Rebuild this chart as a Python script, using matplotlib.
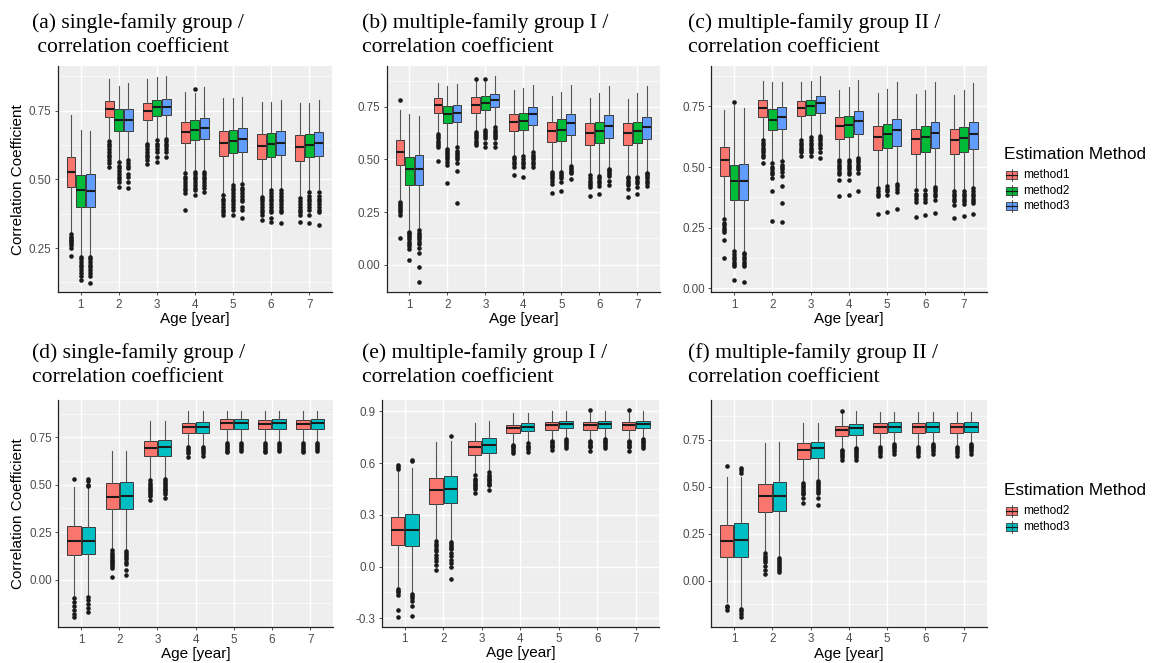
import matplotlib
matplotlib.use("Agg")
import matplotlib.pyplot as plt
from matplotlib.patches import Rectangle
from matplotlib.lines import Line2D
from matplotlib.ticker import AutoMinorLocator, FixedLocator

W, H = 1154, 663

AGES = [1, 2, 3, 4, 5, 6, 7]
METHODS_TOP = ["method1", "method2", "method3"]
COLORS_TOP = ["#F8766D", "#00BA38", "#619CFF"]
METHODS_BOT = ["method2", "method3"]
COLORS_BOT = ["#F8766D", "#00BFC4"]

# stats per age: (whisker low, Q1, median, Q3, whisker high)
# ---------------- (a) single-family group ----------------
A1_STATS = [(0.31, 0.471, 0.528, 0.583, 0.734), (0.65, 0.726, 0.756, 0.785, 0.865), (0.635, 0.716, 0.750, 0.777, 0.864),
            (0.53, 0.631, 0.674, 0.709, 0.819), (0.45, 0.585, 0.633, 0.675, 0.795), (0.445, 0.573, 0.621, 0.665, 0.783),
            (0.44, 0.568, 0.619, 0.661, 0.779)]
A1_OUT = [[0.30, 0.29, 0.285, 0.28, 0.275, 0.27, 0.26, 0.25, 0.22],
          [0.64, 0.63, 0.62, 0.61, 0.60, 0.59, 0.58, 0.57, 0.56, 0.546],
          [0.629, 0.62, 0.61, 0.60, 0.59, 0.58, 0.57, 0.556],
          [0.522, 0.51, 0.50, 0.49, 0.48, 0.47, 0.46, 0.449, 0.388],
          [0.443, 0.43, 0.42, 0.41, 0.40, 0.39, 0.38, 0.37],
          [0.437, 0.43, 0.42, 0.41, 0.40, 0.39, 0.38, 0.37, 0.352],
          [0.434, 0.42, 0.41, 0.40, 0.39, 0.38, 0.37, 0.346]]
A2_STATS = [(0.225, 0.400, 0.461, 0.515, 0.680), (0.57, 0.677, 0.716, 0.755, 0.841), (0.65, 0.731, 0.765, 0.791, 0.874),
            (0.535, 0.643, 0.680, 0.716, 0.816), (0.485, 0.597, 0.641, 0.680, 0.795), (0.47, 0.583, 0.629, 0.670, 0.783),
            (0.46, 0.580, 0.625, 0.667, 0.779)]
A2_OUT = [[0.218, 0.21, 0.20, 0.19, 0.18, 0.17, 0.16, 0.15, 0.133],
          [0.564, 0.55, 0.54, 0.53, 0.52, 0.51, 0.50, 0.49, 0.473],
          [0.643, 0.63, 0.62, 0.61, 0.60, 0.58, 0.564],
          [0.831, 0.528, 0.52, 0.51, 0.50, 0.49, 0.48, 0.47, 0.46, 0.443],
          [0.479, 0.47, 0.46, 0.45, 0.44, 0.43, 0.42, 0.41, 0.40, 0.39, 0.37],
          [0.461, 0.45, 0.44, 0.43, 0.42, 0.41, 0.40, 0.39, 0.38, 0.36, 0.346],
          [0.455, 0.44, 0.43, 0.42, 0.41, 0.40, 0.39, 0.37, 0.342]]
A3_STATS = [(0.225, 0.398, 0.459, 0.519, 0.677), (0.575, 0.677, 0.718, 0.755, 0.850), (0.655, 0.734, 0.765, 0.792, 0.876),
            (0.535, 0.647, 0.686, 0.724, 0.835), (0.49, 0.601, 0.646, 0.686, 0.801), (0.47, 0.589, 0.633, 0.675, 0.791),
            (0.465, 0.586, 0.631, 0.672, 0.789)]
A3_OUT = [[0.216, 0.21, 0.20, 0.19, 0.18, 0.17, 0.16, 0.15, 0.124],
          [0.57, 0.56, 0.55, 0.54, 0.52, 0.51, 0.49, 0.47],
          [0.648, 0.64, 0.63, 0.62, 0.61, 0.60, 0.58],
          [0.528, 0.52, 0.51, 0.50, 0.49, 0.48, 0.47, 0.455],
          [0.483, 0.47, 0.46, 0.45, 0.44, 0.43, 0.42, 0.40, 0.39, 0.358],
          [0.461, 0.45, 0.44, 0.43, 0.42, 0.41, 0.40, 0.39, 0.38, 0.34],
          [0.455, 0.44, 0.43, 0.42, 0.41, 0.40, 0.39, 0.38, 0.334]]

# ---------------- (b) multiple-family group I ----------------
B1_STATS = [(0.31, 0.476, 0.536, 0.592, 0.734), (0.63, 0.723, 0.761, 0.790, 0.864), (0.64, 0.723, 0.761, 0.795, 0.877),
            (0.52, 0.634, 0.679, 0.718, 0.832), (0.45, 0.582, 0.636, 0.680, 0.800), (0.435, 0.570, 0.627, 0.671, 0.790),
            (0.43, 0.570, 0.627, 0.671, 0.785)]
B1_OUT = [[0.782, 0.299, 0.29, 0.28, 0.27, 0.26, 0.25, 0.236, 0.125],
          [0.62, 0.61, 0.60, 0.59, 0.58, 0.57, 0.56, 0.494],
          [0.884, 0.631, 0.62, 0.61, 0.60, 0.59, 0.58, 0.568],
          [0.513, 0.50, 0.49, 0.48, 0.465, 0.426],
          [0.441, 0.43, 0.42, 0.41, 0.40, 0.383, 0.342],
          [0.426, 0.41, 0.40, 0.39, 0.38, 0.37, 0.326],
          [0.418, 0.41, 0.40, 0.39, 0.38, 0.362, 0.323]]
B2_STATS = [(0.17, 0.381, 0.454, 0.513, 0.714), (0.56, 0.674, 0.715, 0.753, 0.848), (0.65, 0.734, 0.769, 0.800, 0.870),
            (0.525, 0.642, 0.684, 0.723, 0.839), (0.45, 0.589, 0.642, 0.690, 0.821), (0.43, 0.576, 0.636, 0.680, 0.818),
            (0.43, 0.576, 0.633, 0.679, 0.818)]
B2_OUT = [[0.157, 0.15, 0.14, 0.13, 0.12, 0.11, 0.10, 0.09, 0.077, 0.022],
          [0.552, 0.54, 0.53, 0.52, 0.51, 0.50, 0.49, 0.473, 0.389],
          [0.884, 0.642, 0.63, 0.62, 0.61, 0.60, 0.58, 0.56],
          [0.516, 0.50, 0.49, 0.48, 0.465, 0.415],
          [0.441, 0.43, 0.42, 0.41, 0.394, 0.35],
          [0.421, 0.41, 0.40, 0.39, 0.373, 0.335],
          [0.418, 0.41, 0.40, 0.39, 0.37, 0.334]]
B3_STATS = [(0.175, 0.378, 0.454, 0.522, 0.706), (0.565, 0.676, 0.722, 0.758, 0.858), (0.665, 0.747, 0.782, 0.810, 0.896),
            (0.545, 0.665, 0.714, 0.750, 0.853), (0.475, 0.614, 0.671, 0.718, 0.853), (0.465, 0.604, 0.660, 0.709, 0.848),
            (0.445, 0.598, 0.655, 0.703, 0.848)]
B3_OUT = [[0.165, 0.15, 0.14, 0.13, 0.12, 0.11, 0.10, 0.08, 0.054, -0.01, -0.081],
          [0.557, 0.54, 0.53, 0.52, 0.51, 0.50, 0.484, 0.446, 0.291],
          [0.655, 0.64, 0.63, 0.62, 0.61, 0.60, 0.58, 0.557],
          [0.536, 0.52, 0.51, 0.50, 0.49, 0.48, 0.465],
          [0.468, 0.46, 0.45, 0.44, 0.434, 0.405],
          [0.457, 0.45, 0.44, 0.43, 0.42, 0.40, 0.378],
          [0.437, 0.43, 0.42, 0.41, 0.40, 0.39, 0.373]]

# ---------------- (c) multiple-family group II ----------------
C1_STATS = [(0.295, 0.462, 0.527, 0.582, 0.736), (0.62, 0.706, 0.743, 0.775, 0.857), (0.62, 0.709, 0.743, 0.771, 0.853),
            (0.54, 0.617, 0.668, 0.705, 0.816), (0.42, 0.571, 0.626, 0.668, 0.805), (0.41, 0.555, 0.615, 0.658, 0.802),
            (0.41, 0.552, 0.613, 0.657, 0.798)]
C1_OUT = [[0.286, 0.27, 0.26, 0.25, 0.24, 0.23, 0.20, 0.125],
          [0.613, 0.60, 0.59, 0.58, 0.57, 0.56, 0.55, 0.54, 0.516],
          [0.613, 0.60, 0.59, 0.58, 0.57, 0.56, 0.544],
          [0.53, 0.52, 0.51, 0.50, 0.49, 0.48, 0.47, 0.448, 0.382],
          [0.413, 0.40, 0.39, 0.382, 0.308],
          [0.404, 0.39, 0.38, 0.37, 0.354, 0.293],
          [0.40, 0.39, 0.38, 0.37, 0.36, 0.345, 0.288]]
C2_STATS = [(0.16, 0.365, 0.441, 0.510, 0.757), (0.525, 0.651, 0.695, 0.739, 0.853), (0.63, 0.716, 0.753, 0.777, 0.857),
            (0.54, 0.624, 0.674, 0.712, 0.832), (0.43, 0.577, 0.635, 0.677, 0.821), (0.41, 0.563, 0.622, 0.668, 0.819),
            (0.41, 0.560, 0.620, 0.665, 0.819)]
C2_OUT = [[0.767, 0.152, 0.14, 0.13, 0.12, 0.11, 0.10, 0.09, 0.033],
          [0.516, 0.50, 0.49, 0.48, 0.47, 0.455, 0.402, 0.276],
          [0.624, 0.61, 0.60, 0.59, 0.58, 0.57, 0.56, 0.544],
          [0.53, 0.52, 0.51, 0.50, 0.49, 0.48, 0.47, 0.445, 0.386],
          [0.42, 0.41, 0.40, 0.386, 0.315],
          [0.404, 0.39, 0.38, 0.37, 0.354, 0.30],
          [0.40, 0.39, 0.38, 0.37, 0.36, 0.349, 0.297]]
C3_STATS = [(0.155, 0.365, 0.444, 0.514, 0.743), (0.53, 0.657, 0.706, 0.747, 0.853), (0.635, 0.725, 0.764, 0.794, 0.874),
            (0.545, 0.637, 0.691, 0.732, 0.860), (0.44, 0.588, 0.651, 0.698, 0.853), (0.425, 0.577, 0.640, 0.687, 0.849),
            (0.42, 0.574, 0.637, 0.685, 0.846)]
C3_OUT = [[0.146, 0.14, 0.13, 0.12, 0.11, 0.10, 0.09, 0.025],
          [0.523, 0.51, 0.50, 0.49, 0.48, 0.461, 0.423, 0.352, 0.272],
          [0.629, 0.62, 0.61, 0.60, 0.59, 0.58, 0.56, 0.537],
          [0.537, 0.53, 0.52, 0.51, 0.50, 0.49, 0.475, 0.40],
          [0.431, 0.42, 0.41, 0.396, 0.327],
          [0.418, 0.41, 0.40, 0.39, 0.38, 0.365, 0.31],
          [0.413, 0.40, 0.39, 0.38, 0.37, 0.36, 0.352, 0.308]]

# ---------------- (d) single-family group (method2/3) ----------------
D2_STATS = [(-0.09, 0.129, 0.203, 0.283, 0.49), (0.165, 0.370, 0.437, 0.507, 0.680), (0.53, 0.652, 0.696, 0.732, 0.838),
            (0.705, 0.775, 0.803, 0.827, 0.891), (0.73, 0.792, 0.824, 0.845, 0.891), (0.73, 0.792, 0.822, 0.843, 0.891),
            (0.73, 0.792, 0.822, 0.843, 0.891)]
D2_OUT = [[0.528, -0.099, -0.12, -0.14, -0.16, -0.18, -0.196],
          [0.156, 0.14, 0.13, 0.12, 0.11, 0.10, 0.09, 0.08, 0.07, 0.06, 0.015],
          [0.525, 0.51, 0.50, 0.49, 0.48, 0.47, 0.46, 0.45, 0.44, 0.42],
          [0.697, 0.69, 0.68, 0.67, 0.645],
          [0.722, 0.71, 0.70, 0.69, 0.68, 0.674],
          [0.722, 0.71, 0.70, 0.69, 0.68, 0.674],
          [0.722, 0.71, 0.70, 0.69, 0.68, 0.674]]
D3_STATS = [(-0.085, 0.135, 0.205, 0.279, 0.49), (0.16, 0.370, 0.441, 0.516, 0.680), (0.535, 0.652, 0.697, 0.736, 0.838),
            (0.705, 0.775, 0.806, 0.831, 0.891), (0.73, 0.792, 0.824, 0.845, 0.891), (0.73, 0.792, 0.824, 0.845, 0.891),
            (0.73, 0.792, 0.824, 0.845, 0.891)]
D3_OUT = [[0.529, 0.52, 0.50, 0.493, -0.09, -0.11, -0.13, -0.15, -0.169],
          [0.152, 0.14, 0.13, 0.12, 0.11, 0.09, 0.08, 0.05, 0.024],
          [0.529, 0.52, 0.51, 0.50, 0.49, 0.48, 0.47, 0.46, 0.45, 0.428],
          [0.697, 0.69, 0.68, 0.67, 0.652],
          [0.722, 0.71, 0.70, 0.69, 0.68],
          [0.722, 0.71, 0.70, 0.69, 0.68],
          [0.722, 0.71, 0.70, 0.69, 0.68]]

# ---------------- (e) multiple-family group I (method2/3) ----------------
E2_STATS = [(-0.117, 0.124, 0.210, 0.287, 0.557), (0.16, 0.364, 0.445, 0.513, 0.721), (0.535, 0.648, 0.692, 0.730, 0.831),
            (0.715, 0.773, 0.802, 0.823, 0.888), (0.74, 0.794, 0.821, 0.840, 0.904), (0.74, 0.794, 0.821, 0.836, 0.890),
            (0.74, 0.794, 0.821, 0.836, 0.890)]
E2_OUT = [[0.586, 0.575, 0.565, -0.127, -0.14, -0.15, -0.166, -0.252, -0.29],
          [0.149, 0.13, 0.12, 0.10, 0.09, 0.07, 0.05, 0.03, 0.01, -0.021],
          [0.528, 0.51, 0.50, 0.49, 0.48, 0.47, 0.46, 0.45, 0.426],
          [0.707, 0.70, 0.69, 0.68, 0.67, 0.659],
          [0.73, 0.72, 0.71, 0.70, 0.69, 0.673],
          [0.908, 0.73, 0.72, 0.71, 0.70, 0.69, 0.669],
          [0.908, 0.73, 0.72, 0.71, 0.70, 0.69, 0.669]]
E3_STATS = [(-0.15, 0.122, 0.214, 0.303, 0.572), (0.15, 0.368, 0.451, 0.522, 0.730), (0.555, 0.657, 0.705, 0.744, 0.846),
            (0.72, 0.784, 0.808, 0.833, 0.888), (0.75, 0.802, 0.827, 0.846, 0.904), (0.75, 0.802, 0.827, 0.846, 0.904),
            (0.75, 0.802, 0.827, 0.846, 0.904)]
E3_OUT = [[0.619, 0.611, -0.16, -0.17, -0.18, -0.20, -0.229, -0.287],
          [0.754, 0.143, 0.13, 0.12, 0.11, 0.10, 0.08, 0.06, 0.04, 0.02, -0.002, -0.073],
          [0.547, 0.53, 0.52, 0.51, 0.50, 0.49, 0.48, 0.47, 0.445],
          [0.715, 0.70, 0.69, 0.68, 0.663],
          [0.74, 0.73, 0.72, 0.71, 0.70, 0.688],
          [0.74, 0.73, 0.72, 0.71, 0.70, 0.688],
          [0.74, 0.73, 0.72, 0.71, 0.70, 0.688]]

# ---------------- (f) multiple-family group II (method2/3) ----------------
F2_STATS = [(-0.114, 0.127, 0.212, 0.300, 0.552), (0.155, 0.369, 0.450, 0.515, 0.736), (0.53, 0.648, 0.697, 0.736, 0.838),
            (0.705, 0.771, 0.803, 0.826, 0.891), (0.72, 0.789, 0.817, 0.838, 0.900), (0.72, 0.789, 0.817, 0.838, 0.900),
            (0.72, 0.789, 0.817, 0.838, 0.900)]
F2_OUT = [[0.609, -0.132, -0.14, -0.153],
          [0.147, 0.13, 0.12, 0.11, 0.10, 0.08, 0.06, 0.036],
          [0.521, 0.51, 0.50, 0.49, 0.48, 0.47, 0.46, 0.44, 0.415],
          [0.905, 0.697, 0.69, 0.68, 0.67, 0.66, 0.641],
          [0.711, 0.70, 0.69, 0.68, 0.665],
          [0.711, 0.70, 0.69, 0.68, 0.665],
          [0.711, 0.70, 0.69, 0.68, 0.665]]
F3_STATS = [(-0.14, 0.127, 0.216, 0.306, 0.552), (0.135, 0.371, 0.454, 0.524, 0.741), (0.54, 0.653, 0.706, 0.741, 0.842),
            (0.715, 0.776, 0.812, 0.835, 0.905), (0.735, 0.794, 0.820, 0.843, 0.900), (0.735, 0.794, 0.820, 0.843, 0.900),
            (0.735, 0.794, 0.820, 0.843, 0.900)]
F3_OUT = [[0.60, 0.59, 0.574, -0.15, -0.16, -0.175, -0.194],
          [0.124, 0.11, 0.10, 0.09, 0.08, 0.07, 0.06, 0.048],
          [0.53, 0.52, 0.51, 0.50, 0.49, 0.48, 0.47, 0.44, 0.406],
          [0.706, 0.70, 0.69, 0.68, 0.67, 0.66, 0.644],
          [0.729, 0.72, 0.71, 0.70, 0.69, 0.674],
          [0.729, 0.72, 0.71, 0.70, 0.69, 0.674],
          [0.729, 0.72, 0.71, 0.70, 0.69, 0.674]]

TITLES = [
    ("(a) single-family group /", " correlation coefficient"),
    ("(b) multiple-family group I /", "correlation coefficient"),
    ("(c) multiple-family group II /", "correlation coefficient"),
    ("(d) single-family group /", "correlation coefficient"),
    ("(e) multiple-family group I /", "correlation coefficient"),
    ("(f) multiple-family group II /", "correlation coefficient"),
]
YTICKS = [
    ([0.25, 0.50, 0.75], ["0.25", "0.50", "0.75"]),
    ([0.0, 0.25, 0.50, 0.75], ["0.00", "0.25", "0.50", "0.75"]),
    ([0.0, 0.25, 0.50, 0.75], ["0.00", "0.25", "0.50", "0.75"]),
    ([0.0, 0.25, 0.50, 0.75], ["0.00", "0.25", "0.50", "0.75"]),
    ([-0.3, 0.0, 0.3, 0.6, 0.9], ["-0.3", "0.0", "0.3", "0.6", "0.9"]),
    ([0.0, 0.25, 0.50, 0.75], ["0.00", "0.25", "0.50", "0.75"]),
]
YLIMS = [(0.089, 0.913), (-0.131, 0.944), (-0.017, 0.917), (-0.252, 0.947), (-0.347, 0.965), (-0.245, 0.962)]

PANELS = [
    ([A1_STATS, A2_STATS, A3_STATS], [A1_OUT, A2_OUT, A3_OUT]),
    ([B1_STATS, B2_STATS, B3_STATS], [B1_OUT, B2_OUT, B3_OUT]),
    ([C1_STATS, C2_STATS, C3_STATS], [C1_OUT, C2_OUT, C3_OUT]),
    ([D2_STATS, D3_STATS], [D2_OUT, D3_OUT]),
    ([E2_STATS, E3_STATS], [E2_OUT, E3_OUT]),
    ([F2_STATS, F3_STATS], [F2_OUT, F3_OUT]),
]

# axes boxes in pixels: left, top, right, bottom
AX_PX = [(57.7, 66, 332, 292.3), (386.7, 66, 660, 292.3), (711, 66, 986.7, 292.3),
         (58.3, 400, 333, 627.3), (381.7, 400, 659, 626.5), (711, 400, 986.7, 627)]
TITLE_PX = [(32, 28), (362, 28), (688, 28), (32, 358), (362, 358), (688, 358)]

fig = plt.figure(figsize=(W / 100, H / 100), dpi=100)
fig.patch.set_facecolor("white")

SANS = "Liberation Sans"
SERIF = "Liberation Serif"
EDGE = "#3a3a3a"


def fx(x):
    return x / W


def fy(y):
    return 1 - y / H


for i, (stats_list, out_list) in enumerate(PANELS):
    l, t, r, b = AX_PX[i]
    ax = fig.add_axes([fx(l), fy(b), (r - l) / W, (b - t) / H])
    ax.set_facecolor("#EEEEEE")
    n = len(stats_list)
    colors = COLORS_TOP if n == 3 else COLORS_BOT
    dodge = 0.75 / n
    bw = dodge * 0.93
    for m in range(n):
        stats = []
        for k, age in enumerate(AGES):
            wl, q1, md, q3, wh = stats_list[m][k]
            stats.append(dict(whislo=wl, q1=q1, med=md, q3=q3, whishi=wh, fliers=out_list[m][k]))
        pos = [a + (m - (n - 1) / 2) * dodge for a in AGES]
        ax.bxp(stats, positions=pos, widths=bw, patch_artist=True, showcaps=False,
               boxprops=dict(facecolor=colors[m], edgecolor=EDGE, linewidth=0.7),
               medianprops=dict(color="#1a1a1a", linewidth=1.5),
               whiskerprops=dict(color="#555555", linewidth=0.8),
               flierprops=dict(marker="o", markerfacecolor="#1a1a1a", markeredgecolor="none",
                               markersize=3.3, linestyle="none"),
               manage_ticks=False, zorder=3)
    ax.set_xlim(0.4, 7.6)
    ax.set_ylim(*YLIMS[i])
    ticks, labels = YTICKS[i]
    ax.yaxis.set_major_locator(FixedLocator(ticks))
    ax.set_yticklabels(labels)
    ax.yaxis.set_minor_locator(AutoMinorLocator(2))
    ax.set_xticks(AGES)
    ax.set_xticklabels([str(a) for a in AGES])
    ax.grid(True, which="major", color="white", linewidth=1.0, zorder=0)
    ax.grid(True, which="minor", axis="y", color="white", linewidth=0.5, zorder=0)
    ax.set_axisbelow(True)
    for s in ["top", "right"]:
        ax.spines[s].set_visible(False)
    for s in ["left", "bottom"]:
        ax.spines[s].set_color("#222222")
        ax.spines[s].set_linewidth(0.9)
    ax.tick_params(axis="both", which="major", length=2.5, width=0.6, color="#333333",
                   labelcolor="#4D4D4D", labelsize=8.4, pad=2)
    ax.tick_params(axis="y", which="minor", length=0)
    for lab in ax.get_xticklabels() + ax.get_yticklabels():
        lab.set_fontfamily(SANS)
    ax.set_xlabel("Age [year]", fontsize=11, fontfamily=SANS, labelpad=1)
    if i in (0, 3):
        ax.set_ylabel("Correlation Coefficient", fontsize=11, fontfamily=SANS, labelpad=3)
    tx, ty = TITLE_PX[i]
    fig.text(fx(tx), fy(ty), TITLES[i][0], fontsize=15.6, fontfamily=SERIF, va="baseline", ha="left")
    fig.text(fx(tx), fy(ty + 24), TITLES[i][1], fontsize=15.6, fontfamily=SERIF, va="baseline", ha="left")


def legend(x0, y_title, methods, colors, row_h=15.5):
    fig.text(fx(x0), fy(y_title), "Estimation Method", fontsize=12.3, fontfamily=SANS,
             va="baseline", ha="left")
    for j, (mname, col) in enumerate(zip(methods, colors)):
        yc = y_title + 16 + j * row_h
        kx0, kx1 = x0 + 2, x0 + 13
        fig.add_artist(Line2D([fx((kx0 + kx1) / 2)] * 2, [fy(yc - 6), fy(yc + 6)],
                              color=EDGE, linewidth=0.6))
        fig.add_artist(Rectangle((fx(kx0), fy(yc + 4)), (kx1 - kx0) / W, 8 / H,
                                 facecolor=col, edgecolor=EDGE, linewidth=0.6))
        fig.add_artist(Line2D([fx(kx0), fx(kx1)], [fy(yc), fy(yc)], color="#1a1a1a", linewidth=0.9))
        fig.text(fx(x0 + 19), fy(yc), mname, fontsize=8.6, fontfamily=SANS, va="center", ha="left")


legend(1004, 159, METHODS_TOP, COLORS_TOP)
legend(1004, 495, METHODS_BOT, COLORS_BOT)

fig.savefig("out.png", dpi=100, facecolor="white")
